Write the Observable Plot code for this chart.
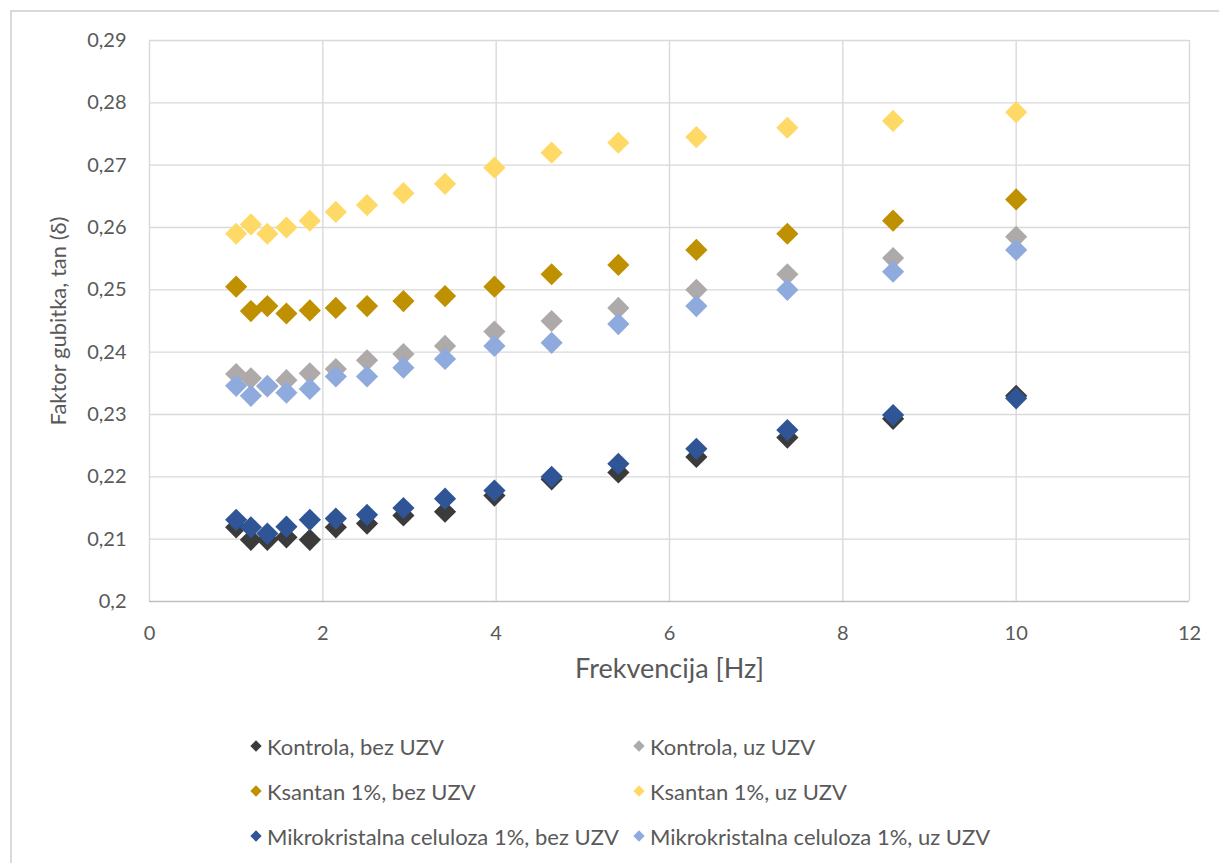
<!DOCTYPE html>
<html>
<head>
<meta charset="utf-8">
<script src="https://cdn.jsdelivr.net/npm/d3@7"></script>
<script src="https://cdn.jsdelivr.net/npm/@observablehq/plot@0.6"></script>
<style>
  html, body { margin: 0; padding: 0; background: #fff; }
  #wrap { position: relative; width: 1219px; height: 863px; overflow: hidden; font-family: Lato, "Open Sans", sans-serif; }
  #frame { position: absolute; left: 10px; top: 10px; width: 1220px; height: 870px; border: 2px solid #d9d9d9; box-sizing: border-box; }
  #chart { position: absolute; left: 0; top: 0; }
  .leg { position: absolute; display: flex; align-items: center; font-size: 22px; color: #595959; white-space: nowrap; }
  .leg .m { display: inline-block; width: 8px; height: 8px; transform: rotate(45deg); margin-right: 7px; margin-left: 2px; }
</style>
</head>
<body>
<div id="wrap">
  <div id="frame"></div>
  <div id="chart"></div>
  <div id="legend"></div>
</div>
<script>
// Frequencies (Hz)
const freq = [1, 1.17, 1.36, 1.58, 1.85, 2.15, 2.51, 2.93, 3.41, 3.98, 4.64, 5.41, 6.31, 7.36, 8.58, 10];

// Loss factor tan(δ) per series
const kontrolaBez = [0.2119, 0.2099, 0.2099, 0.2103, 0.2099, 0.2119, 0.2125, 0.2138, 0.2144, 0.2170, 0.2196, 0.2207, 0.2232, 0.2263, 0.2293, 0.2330];
const kontrolaUz = [0.2365, 0.2358, 0.2345, 0.2355, 0.2366, 0.2373, 0.2387, 0.2397, 0.2410, 0.2433, 0.2450, 0.2471, 0.2500, 0.2525, 0.2551, 0.2585];
const ksantanBez = [0.2505, 0.2466, 0.2474, 0.2462, 0.2467, 0.2471, 0.2474, 0.2482, 0.2490, 0.2505, 0.2525, 0.2540, 0.2564, 0.2590, 0.2611, 0.2645];
const ksantanUz = [0.2590, 0.2605, 0.2590, 0.2600, 0.2611, 0.2625, 0.2636, 0.2655, 0.2670, 0.2696, 0.2720, 0.2736, 0.2745, 0.2760, 0.2771, 0.2785];
const mikroBez = [0.2131, 0.2119, 0.2109, 0.2120, 0.2131, 0.2133, 0.2139, 0.2150, 0.2165, 0.2178, 0.2200, 0.2221, 0.2245, 0.2275, 0.2299, 0.2326];
const mikroUz = [0.2346, 0.2330, 0.2346, 0.2335, 0.2341, 0.2361, 0.2361, 0.2375, 0.2389, 0.2410, 0.2415, 0.2445, 0.2474, 0.2500, 0.2529, 0.2564];

const seriesNames = [
  "Kontrola, bez UZV", "Kontrola, uz UZV",
  "Ksantan 1%, bez UZV", "Ksantan 1%, uz UZV",
  "Mikrokristalna celuloza 1%, bez UZV", "Mikrokristalna celuloza 1%, uz UZV"
];
const seriesValues = [kontrolaBez, kontrolaUz, ksantanBez, ksantanUz, mikroBez, mikroUz];
const seriesColors = ["#3b3b3b", "#aeaaaa", "#bf9000", "#ffd966", "#2f5597", "#8faadc"];

const xTicks = [0, 2, 4, 6, 8, 10, 12];
const yTicks = [0.2, 0.21, 0.22, 0.23, 0.24, 0.25, 0.26, 0.27, 0.28, 0.29];
const xTitle = "Frekvencija [Hz]";
const yTitle = "Faktor gubitka, tan (δ)";

const data = [];
seriesNames.forEach((name, i) => {
  seriesValues[i].forEach((v, j) => data.push({series: name, f: freq[j], v}));
});

const fmtY = d => String(+d.toFixed(2)).replace(".", ",");

const chart = Plot.plot({
  width: 1219,
  height: 700,
  marginLeft: 149,
  marginRight: 30,
  marginTop: 40,
  marginBottom: 99,
  style: {fontFamily: "Lato, 'Open Sans', sans-serif", fontSize: "20px", color: "#595959", background: "transparent"},
  x: {domain: [0, 12], label: null},
  y: {domain: [0.2, 0.29], label: null},
  color: {domain: seriesNames, range: seriesColors},
  marks: [
    Plot.ruleY(yTicks.slice(1), {y: d => d, stroke: "#d9d9d9", strokeWidth: 1.4}),
    Plot.ruleX(xTicks, {x: d => d, stroke: "#d9d9d9", strokeWidth: 1.4}),
    Plot.ruleY([0.2], {y: d => d, stroke: "#bfbfbf", strokeWidth: 1.6}),
    Plot.axisX({ticks: xTicks, tickSize: 0, tickPadding: 24, tickFormat: d => String(d), label: null, fill: "#595959"}),
    Plot.axisY({ticks: yTicks, tickSize: 0, tickPadding: 23, tickFormat: fmtY, label: null, fill: "#595959"}),
    Plot.dot(data, {x: "f", y: "v", fill: "series", symbol: "diamond2", r: 10, stroke: "none"}),
    Plot.text([xTitle], {frameAnchor: "bottom", dy: 76, text: d => d, fontSize: 27, fill: "#595959", textAnchor: "middle"}),
    Plot.text([yTitle], {frameAnchor: "left", dx: -91, rotate: -90, text: d => d, fontSize: 22, fill: "#595959", textAnchor: "middle"})
  ]
});
document.getElementById("chart").appendChild(chart);

// Legend (HTML, below the SVG)
const legend = document.getElementById("legend");
const legCols = [250, 633];
const legRows = [746, 791, 836];
seriesNames.forEach((name, i) => {
  const el = document.createElement("div");
  el.className = "leg";
  el.style.left = legCols[i % 2] + "px";
  el.style.top = (legRows[Math.floor(i / 2)] - 13) + "px";
  el.style.height = "26px";
  const m = document.createElement("span");
  m.className = "m";
  m.style.background = seriesColors[i];
  el.appendChild(m);
  el.appendChild(document.createTextNode(name));
  legend.appendChild(el);
});
</script>
</body>
</html>
